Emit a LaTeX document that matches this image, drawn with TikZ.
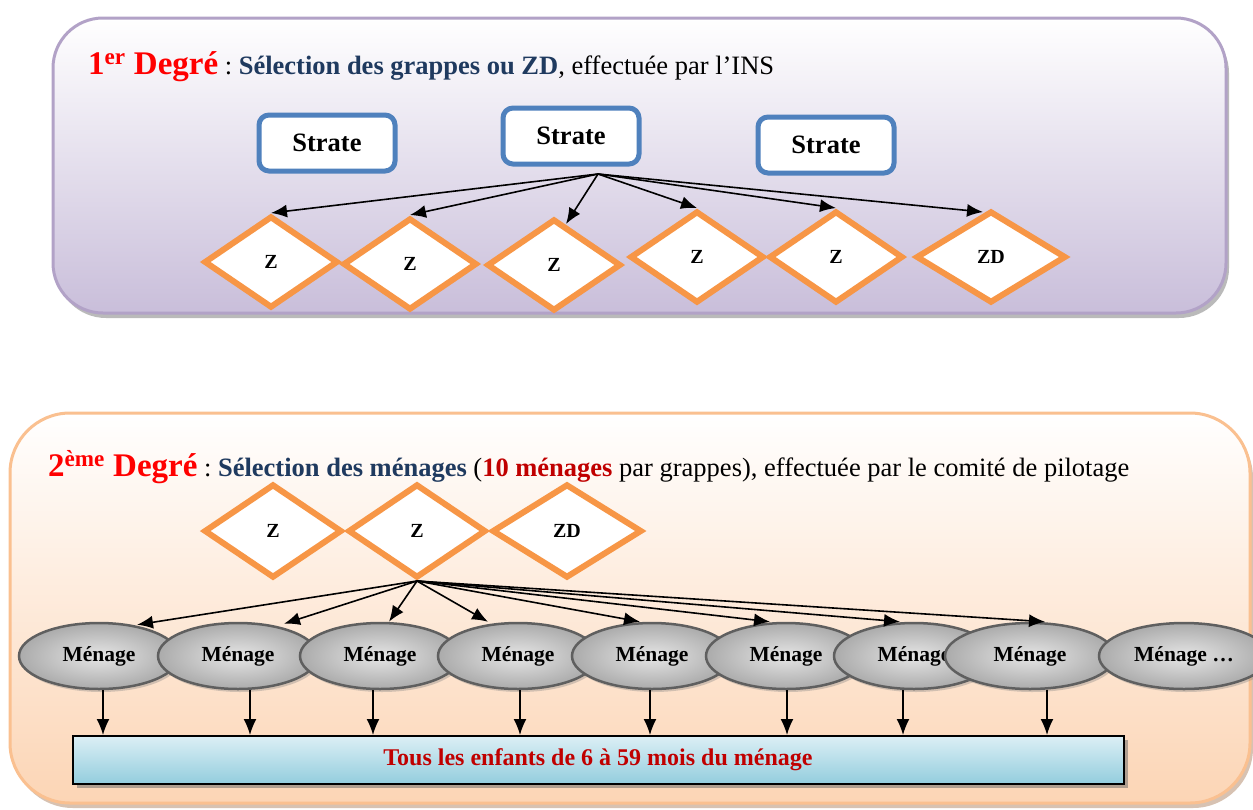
\documentclass[tikz,border=0pt]{standalone}
\usepackage{fontspec}
\setmainfont{Liberation Serif}
\usetikzlibrary{shapes.geometric,arrows.meta,shadows}
\definecolor{lavb}{HTML}{B2A2C7}
\definecolor{lavf}{HTML}{C9BEDA}
\definecolor{peachb}{HTML}{FAC090}
\definecolor{peachf}{HTML}{FCD5B5}
\definecolor{strateb}{HTML}{4F81BD}
\definecolor{orng}{HTML}{F79646}
\definecolor{navy}{HTML}{1F3A5F}
\definecolor{dred}{HTML}{C00000}
\definecolor{ltblue}{HTML}{DCEFF5}
\definecolor{mdblue}{HTML}{93CDDD}
\definecolor{elb}{HTML}{5F5F5F}
\tikzset{
  panelA/.style={draw=lavb, line width=3pt, rounded corners=50pt, top color=white, bottom color=lavf,
     minimum width=1173pt, minimum height=295pt, inner sep=0pt,
     drop shadow={shadow xshift=3pt, shadow yshift=-5pt, fill=black!45, opacity=.6}},
  panelB/.style={draw=peachb, line width=3pt, rounded corners=60pt, top color=white, bottom color=peachf,
     minimum width=1240pt, minimum height=390pt, inner sep=0pt,
     drop shadow={shadow xshift=3pt, shadow yshift=-5pt, fill=peachb!70!black, opacity=.5}},
  stratebox/.style={draw=strateb, line width=5pt, rounded corners=10pt, fill=white,
     minimum width=136pt, minimum height=56pt, font=\fontsize{26.5}{30}\selectfont\bfseries},
  zone/.style={diamond, draw=orng, line width=6pt, fill=white, inner sep=0pt,
     minimum width=134pt, minimum height=92pt, font=\fontsize{20}{24}\selectfont\bfseries},
  zonew/.style={zone, minimum width=150pt},
  menage/.style={ellipse, draw=elb, line width=2.5pt, inner color=gray!20, outer color=gray!66,
     minimum width=160pt, minimum height=66pt, inner sep=0pt, font=\fontsize{21.5}{25}\selectfont\bfseries,
     drop shadow={shadow xshift=2pt, shadow yshift=-3pt, fill=black!50, opacity=.35}},
  enfants/.style={draw=black, line width=2pt, top color=ltblue, bottom color=mdblue,
     minimum width=1051pt, minimum height=48pt, font=\fontsize{24}{28}\selectfont\bfseries\color{dred},
     drop shadow={shadow xshift=4pt, shadow yshift=-4pt, fill=black!60, opacity=.5}},
  arr/.style={-{Latex[length=16pt,width=13pt]}, line width=1.6pt, black},
}
\begin{document}
\begin{tikzpicture}[x=1pt,y=-1pt]
\useasboundingbox (0,0) rectangle (1253,809);

% panels
\node[panelA] (p1) at (639.5,165.5) {};
\node[panelB] (p2) at (630,608) {};

% titles
\node[anchor=base west, inner sep=0pt] (t1) at (88,74)
  {{\fontsize{33}{37}\selectfont\bfseries\color{red}1\textsuperscript{er} Degré}%
   {\fontsize{26.5}{30}\selectfont\ :\ }%
   {\fontsize{26.5}{30}\selectfont\bfseries\color{navy}Sélection des grappes ou ZD}%
   {\fontsize{26.5}{30}\selectfont, effectuée par l’INS}};
\node[anchor=base west, inner sep=0pt] (t2) at (48,476)
  {{\fontsize{33}{37}\selectfont\bfseries\color{red}2\textsuperscript{ème} Degré}%
   {\fontsize{26.5}{30}\selectfont\ :\ }%
   {\fontsize{26.5}{30}\selectfont\bfseries\color{navy}Sélection des ménages}%
   {\fontsize{26.5}{30}\selectfont\ (}%
   {\fontsize{26.5}{30}\selectfont\bfseries\color{dred}10 ménages}%
   {\fontsize{26.5}{30}\selectfont\ par grappes), effectuée par le comité de pilotage}};

% strates
\node[stratebox] (s1) at (327,143) {Strate};
\node[stratebox] (s2) at (571,136) {Strate};
\node[stratebox] (s3) at (826,145) {Strate};
\coordinate (src) at (598,174);

% first-degree zones
\node[zone] (d1) at (271,262) {Z};
\node[zone] (d2) at (410,264) {Z};
\node[zone] (d3) at (554,265) {Z};
\node[zone] (d4) at (697,257) {Z};
\node[zone] (d5) at (836,257) {Z};
\node[zonew] (d6) at (991,257) {ZD};

\draw[arr] (src) -- (d1.north);
\draw[arr] (src) -- (d2.north);
\draw[arr] (src) -- ([xshift=12pt,yshift=-8pt]d3.north);
\draw[arr] (src) -- (d4.north);
\draw[arr] (src) -- (d5.north);
\draw[arr] (src) -- ([xshift=-8pt,yshift=-4pt]d6.north);

% second-degree zones
\node[zone, minimum width=138pt, minimum height=94pt] (b1) at (273,531) {Z};
\node[zone, minimum width=138pt, minimum height=94pt] (b2) at (417,531) {Z};
\node[zonew, minimum height=94pt] (b3) at (567,531) {ZD};

% menages
\node[menage] (e1) at (99,656) {Ménage};
\node[menage] (e2) at (238,656) {Ménage};
\node[menage] (e3) at (380,656) {Ménage};
\node[menage] (e4) at (518,656) {Ménage};
\node[menage] (e5) at (652,656) {Ménage};
\node[menage] (e6) at (786,656) {Ménage};
\node[menage] (e7) at (914,656) {Ménage};
\node[menage, minimum width=170pt] (e8) at (1030,656) {Ménage};
\node[menage, minimum width=170pt] (e9) at (1184,656) {Ménage …};

\draw[arr] (b2.south) -- ([xshift=38pt,yshift=-3pt]e1.north);
\draw[arr] (b2.south) -- ([xshift=46pt,yshift=-2pt]e2.north);
\draw[arr] (b2.south) -- ([xshift=9pt]e3.north);
\draw[arr] (b2.south) -- ([xshift=-30pt]e4.north);
\draw[arr] (b2.south) -- ([xshift=-12pt]e5.north);
\draw[arr] (b2.south) -- ([xshift=-16pt]e6.north);
\draw[arr] (b2.south) -- ([xshift=-14pt]e7.north);
\draw[arr] (b2.south) -- ([xshift=15pt]e8.north);

% box
\node[enfants] (box) at (598,760) {Tous les enfants de 6 à 59 mois du ménage};

\foreach \e/\dx in {e1/4,e2/12,e3/-7,e4/2,e5/-2,e6/1,e7/-11,e8/17}{
  \draw[arr] ([xshift=\dx pt]\e.south) -- ([xshift=\dx pt]\e.south |- box.north);
}
\end{tikzpicture}
\end{document}
